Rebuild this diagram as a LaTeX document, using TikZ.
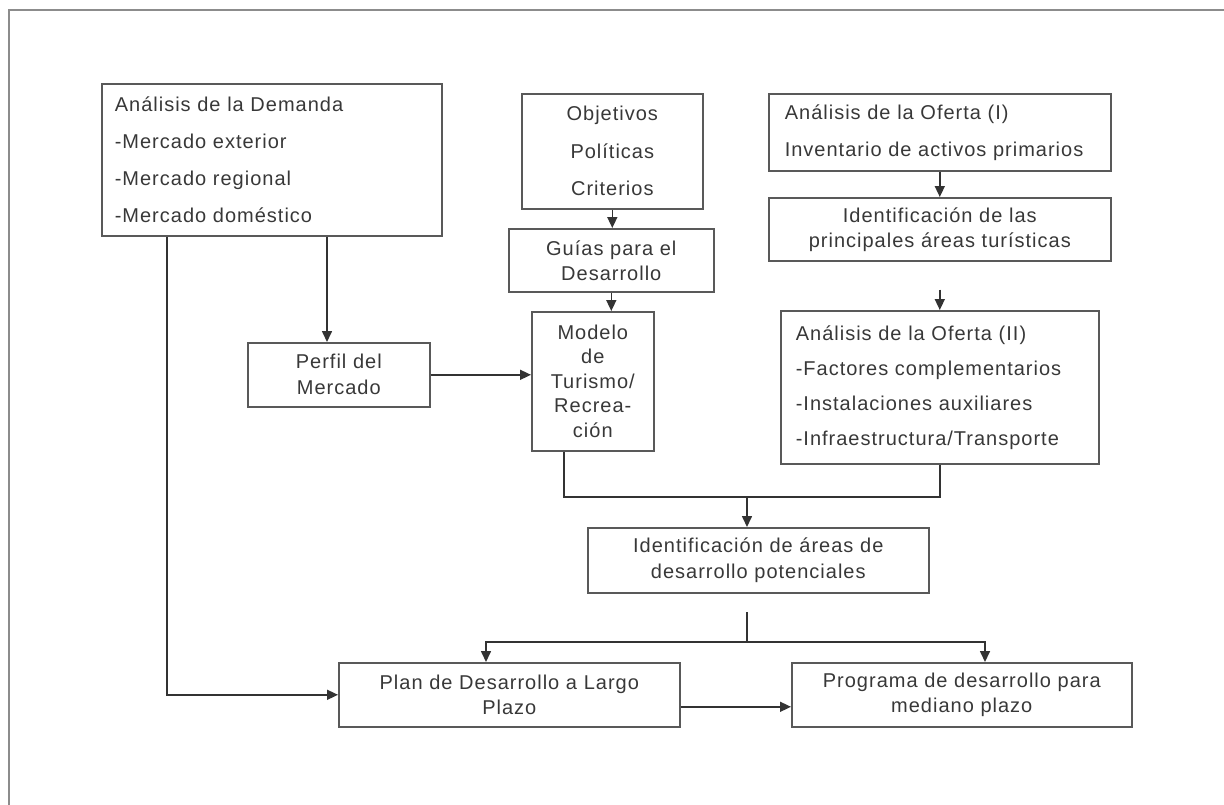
\documentclass[tikz,border=0pt]{standalone}
\usepackage{fontspec}
\setmainfont{Liberation Sans}[LetterSpace=5]
\usetikzlibrary{arrows.meta}
\begin{document}
\begin{tikzpicture}[x=1pt,y=-1pt,
  box/.style={draw=black!65,line width=1.6pt,inner sep=0pt,anchor=north west,text=black!78},
  lead/.style={font=\fontsize{20}{#1}\selectfont},
  cbox/.style={box,align=center},
  lbox/.style={box,align=left},
  conn/.style={draw=black!80,line width=1.6pt},
  arr/.style={conn,-{Triangle[length=11pt,width=10pt]}},
]
\useasboundingbox (0,0) rectangle (1224,804);
\draw[black!45,line width=2.5pt] (9,830) -- (9,10) -- (1240,10);

\node[lbox,lead=37,minimum width=340pt,minimum height=152pt,text width=314pt,inner xsep=13pt] (dem) at (101,83)
  {Análisis de la Demanda\\-Mercado exterior\\-Mercado regional\\-Mercado doméstico};
\node[cbox,lead=37.5,minimum width=181pt,minimum height=115pt,text width=181pt] (obj) at (521,93)
  {Objetivos\\Políticas\\Criterios};
\node[cbox,lead=25,minimum width=205pt,minimum height=63pt,text width=205pt] (gui) at (508,228)
  {Guías para el\\Desarrollo};
\node[cbox,lead=24.5,minimum width=122pt,minimum height=139pt,text width=122pt] (mod) at (531,311)
  {Modelo\\de\\Turismo/\\Recrea-\\ción};
\node[cbox,lead=26,minimum width=182pt,minimum height=64pt,text width=182pt] (per) at (247,342)
  {Perfil del\\Mercado};
\node[lbox,lead=37,minimum width=342pt,minimum height=77pt,text width=310pt,inner xsep=16pt] (of1) at (768,93)
  {Análisis de la Oferta (I)\\Inventario de activos primarios};
\node[cbox,lead=25,minimum width=342pt,minimum height=63pt,text width=342pt] (idt) at (768,197)
  {Identificación de las\\principales áreas turísticas};
\node[lbox,lead=35,minimum width=318pt,minimum height=153pt,text width=288pt,inner xsep=15pt] (ofb) at (780,310)
  {Análisis de la Oferta (II)\\-Factores complementarios\\-Instalaciones auxiliares\\-Infraestructura/Transporte};
\node[cbox,lead=26,minimum width=341pt,minimum height=65pt,text width=341pt] (id2) at (587,527)
  {Identificación de áreas de\\desarrollo potenciales};
\node[cbox,lead=25,minimum width=341pt,minimum height=64pt,text width=341pt] (plan) at (338,662)
  {Plan de Desarrollo a Largo\\Plazo};
\node[cbox,lead=25,minimum width=340pt,minimum height=64pt,text width=340pt] (prog) at (791,662)
  {Programa de desarrollo para\\mediano plazo};

% connectors
\draw[arr] (obj.south) -- (obj.south |- gui.north);
\draw[arr] (gui.south) -- (gui.south |- mod.north);
\coordinate (d1) at ([xshift=226pt]dem.south west);
\coordinate (d2) at ([xshift=66pt]dem.south west);
\draw[arr] (d1) -- (d1 |- per.north);
\draw[arr] (d2) |- (plan.west);
\draw[arr] (per.east) -- (per.east -| mod.west);
\draw[arr] (of1.south) -- (of1.south |- idt.north);
\coordinate (g2) at ([yshift=-28pt]idt.south);
\draw[arr] (g2) -- (g2 |- ofb.north);
\coordinate (m1) at ([xshift=33pt]mod.south west);
\coordinate (jn) at (747,497);
\draw[conn] (m1) |- (jn);
\draw[conn] (ofb.south) |- (jn);
\draw[arr] (jn) -- (jn |- id2.north);
\coordinate (g1) at (747,612);
\coordinate (jn2) at (747,642);
\coordinate (p1) at ([xshift=148pt]plan.north west);
\coordinate (p2) at ([xshift=194pt]prog.north west);
\draw[conn] (g1) -- (jn2);
\draw[arr] (jn2) -| (p1);
\draw[arr] (jn2) -| (p2);
\coordinate (pe) at ([yshift=-12pt]plan.east);
\draw[arr] (pe) -- (pe -| prog.west);
\end{tikzpicture}
\end{document}
